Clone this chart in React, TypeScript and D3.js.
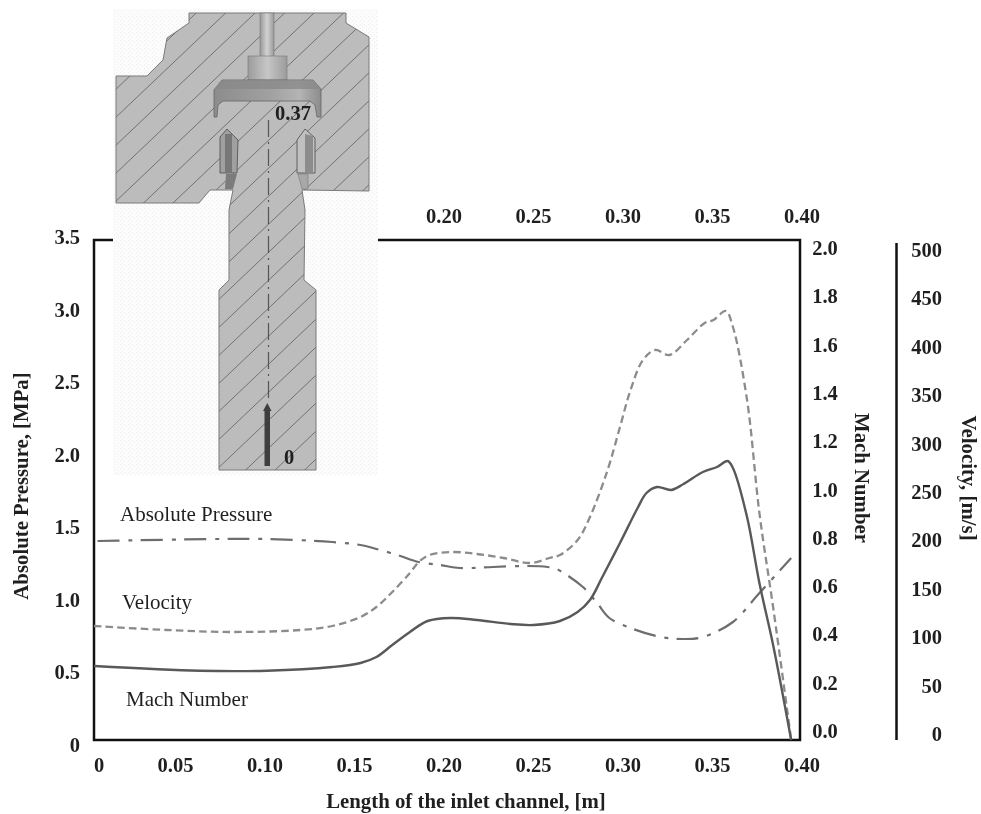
import React from "react";
import * as d3 from "d3";

// ---- chart data ----
const machLength = [0, .060, .098, .135, .151, .160, .169, .179, .189, .202, .217, .236, .249, .264, .274, .281, .288, .298, .308, .313, .319, .327, .334, .345, .353, .359, .362, .370, .377, .385, .395];
const machValues = [.296, .277, .277, .292, .308, .332, .380, .432, .476, .488, .480, .464, .460, .476, .512, .560, .652, .788, .928, .988, 1.012, 1.0, 1.024, 1.072, 1.092, 1.116, 1.088, .892, .628, .372, 0];
const velocityLength = [0, .041, .079, .117, .135, .151, .160, .169, .179, .184, .190, .203, .217, .232, .247, .258, .264, .274, .281, .291, .298, .304, .311, .318, .326, .336, .346, .351, .358, .362, .370, .377, .385, .395];
const velocityValues = [114, 110, 108, 110, 114, 123, 133, 148, 167, 178, 185, 188, 186, 182, 177, 182, 185, 200, 223, 270, 313, 350, 380, 390, 385, 400, 417, 420, 429, 413, 340, 227, 130, 0];
const pressureLength = [.002, .070, .098, .135, .151, .160, .172, .184, .196, .207, .214, .226, .245, .257, .262, .277, .285, .292, .304, .321, .334, .345, .362, .377, .395];
const pressureValues = [1.393, 1.407, 1.407, 1.386, 1.365, 1.337, 1.295, 1.246, 1.225, 1.204, 1.204, 1.211, 1.218, 1.211, 1.197, 1.071, .959, .854, .784, .721, .707, .721, .826, 1.029, 1.274];

const bottomTicks = ["0.05", "0.10", "0.15", "0.20", "0.25", "0.30", "0.35", "0.40"];
const topTicks = ["0.20", "0.25", "0.30", "0.35", "0.40"];
const pressureTicks = [0, 0.5, 1, 1.5, 2, 2.5, 3, 3.5];
const machTicks = [0, .2, .4, .6, .8, 1, 1.2, 1.4, 1.6, 1.8, 2];
const velocityTicks = [0, 50, 100, 150, 200, 250, 300, 350, 400, 450, 500];

// ---- inset drawing of the inlet channel ----
const bodyOutline = "M189,13 L346,13 L346,23 L369,37 L369,191 L302,190 L305,210 L304,280 L316,290 L316,470 L219,470 L219,290 L229,280 L229,210 L233,190 L210,190 L199,203 L116,203 L116,76 L147,76 L163,60 L167,38 L189,23 Z";
const flange = "M222,80 L313,80 L321,89 L321,117 L317,117 L315,105 L310,101 L223,101 L218,105 L217,117 L214,117 L214,90 Z";
const flangeTop = "M222,80 L313,80 L321,89 L214,89 Z";
const finLeft = "M220,137 L227,129 L238,140 L237,173 L220,173 Z";
const finRight = "M297,140 L305,129 L315,138 L315,173 L297,173 Z";
const finLeftStripe = "M225,134 L232,134 L232,173 L225,173 Z";
const finRightStripe = "M305,134 L313,136 L313,173 L305,173 Z";
const finLeftLow = "M226,174 L237,174 L233,189 L225,189 Z";
const finRightLow = "M298,174 L308,174 L308,189 L302,189 Z";

const FONT = "'Liberation Serif', 'Times New Roman', serif";
const INK = "#1f1f1f";

export default function App() {
  const x = d3.scaleLinear().domain([0, 0.4]).range([94, 800]);
  const yPressure = d3.scaleLinear().domain([0, 3.5]).range([740, 240]);
  const yMach = d3.scaleLinear().domain([0, 2]).range([740, 240]);
  const yVelocity = d3.scaleLinear().domain([0, 500]).range([740, 240]);

  // label rows sit slightly off the plot scale in the reference
  const xLabel = d3.scaleLinear().domain([0.05, 0.4]).range([175.5, 802]);
  const yPressLabel = d3.scaleLinear().domain([0, 3.5]).range([745, 237]);
  const yMachLabel = d3.scaleLinear().domain([0, 2]).range([731, 248]);
  const yVelLabel = d3.scaleLinear().domain([0, 500]).range([734, 250]);

  const path = (xs: number[], ys: number[], yScale: d3.ScaleLinear<number, number>) =>
    d3.line<number>()
      .x((d) => x(d))
      .y((_, i) => yScale(ys[i]))
      .curve(d3.curveCatmullRom.alpha(0.5))(xs) as string;

  // hatch lines: y = y0 - slope * (x - 219)
  const hatchOffsets = d3.range(-12, 24).map((k) => 327.3 + 28 * k);
  const slope = 0.95;

  const tick = { fontFamily: FONT, fontWeight: 700, fontSize: 20.5, fill: INK } as const;
  const title = { ...tick, fontSize: 20.8 } as const;

  return (
    <svg width={981} height={814} style={{ position: "absolute", left: 0, top: 0, background: "#fff", filter: "blur(0.4px)" }}>
      <defs>
        <clipPath id="bodyClip"><path d={bodyOutline} /></clipPath>
        <pattern id="speckle" width={4} height={4} patternUnits="userSpaceOnUse">
          <rect width={4} height={4} fill="#fcfcfc" />
          <rect width={1} height={1} fill="#eeeeee" />
          <rect x={2} y={2} width={1} height={1} fill="#eeeeee" />
        </pattern>
        <linearGradient id="flangeFill" x1="0" y1="0" x2="1" y2="0">
          <stop offset="0" stopColor="#8c8c8c" />
          <stop offset="0.55" stopColor="#a2a2a2" />
          <stop offset="0.8" stopColor="#b4b4b4" />
          <stop offset="1" stopColor="#8c8c8c" />
        </linearGradient>
        <linearGradient id="pipeFill" x1="0" y1="0" x2="1" y2="0">
          <stop offset="0" stopColor="#999" />
          <stop offset="0.5" stopColor="#d2d2d2" />
          <stop offset="1" stopColor="#999" />
        </linearGradient>
        <linearGradient id="discFill" x1="0" y1="0" x2="1" y2="0">
          <stop offset="0" stopColor="#9c9c9c" />
          <stop offset="0.5" stopColor="#c6c6c6" />
          <stop offset="1" stopColor="#9c9c9c" />
        </linearGradient>
      </defs>

      {/* plot frame */}
      <g fill="none" stroke="#111" strokeWidth={2.5}>
        <path d={`M${x(0)},${yPressure(3.5)} V${yPressure(0)} H${x(0.4)} V${yPressure(3.5)} Z`} />
      </g>
      <line x1={896.5} x2={896.5} y1={243} y2={740} stroke="#111" strokeWidth={2.5} />

      {/* series */}
      <path d={path(pressureLength, pressureValues, yPressure)} fill="none" stroke="#6e6e6e" strokeWidth={2.2} strokeDasharray="22 9 4 8.3" />
      <path d={path(velocityLength, velocityValues, yVelocity)} fill="none" stroke="#8c8c8c" strokeWidth={2.3} strokeDasharray="7.5 4.2" />
      <path d={path(machLength, machValues, yMach)} fill="none" stroke="#595959" strokeWidth={2.4} />

      {/* inset */}
      <rect x={113} y={9} width={265} height={466} fill="url(#speckle)" />
      <path d={bodyOutline} fill="#bcbcbc" stroke="#7a7a7a" strokeWidth={1} />
      <g clipPath="url(#bodyClip)" stroke="#727272" strokeWidth={1}>
        {hatchOffsets.map((o) => (
          <line key={o} x1={100} y1={o + slope * 119} x2={400} y2={o - slope * 181} />
        ))}
      </g>
      <rect x={260} y={13} width={14} height={44} fill="url(#pipeFill)" stroke="#777" strokeWidth={0.6} />
      <rect x={248} y={56} width={39} height={24} fill="url(#discFill)" stroke="#777" strokeWidth={0.6} />
      <path d={flange} fill="url(#flangeFill)" stroke="#666" strokeWidth={0.8} />
      <path d={flangeTop} fill="#8a8a8a" opacity={0.8} />
      <path d={finLeft} fill="#a0a0a0" stroke="#555" strokeWidth={0.9} />
      <path d={finLeftStripe} fill="#777" />
      <path d={finRight} fill="#c0c0c0" stroke="#555" strokeWidth={0.9} />
      <path d={finRightStripe} fill="#8c8c8c" />
      <path d={finLeftLow} fill="#7c7c7c" />
      <path d={finRightLow} fill="#a8a8a8" stroke="#777" strokeWidth={0.6} />
      <line x1={268.5} x2={268.5} y1={120} y2={402} stroke="#555" strokeWidth={1.2} strokeDasharray="17 5 2 5" />
      <rect x={264.5} y={410} width={5.5} height={56} fill="#3e3e3e" />
      <path d="M263,411 L267.3,403 L271.5,411 Z" fill="#3e3e3e" />
      <text x={293} y={120} textAnchor="middle" {...tick}>0.37</text>
      <text x={289} y={464} textAnchor="middle" {...tick}>0</text>

      {/* tick labels */}
      <text x={99} y={772} textAnchor="middle" {...tick}>0</text>
      {bottomTicks.map((t) => (
        <text key={t} x={xLabel(+t)} y={772} textAnchor="middle" {...tick}>{t}</text>
      ))}
      {topTicks.map((t) => (
        <text key={t} x={xLabel(+t)} y={223} textAnchor="middle" {...tick}>{t}</text>
      ))}
      {pressureTicks.map((t) => (
        <text key={t} x={80} y={yPressLabel(t) + 7} textAnchor="end" {...tick}>{t === 0 ? "0" : t.toFixed(1)}</text>
      ))}
      {machTicks.map((t) => (
        <text key={t} x={825} y={yMachLabel(t) + 7} textAnchor="middle" {...tick}>{t.toFixed(1)}</text>
      ))}
      {velocityTicks.map((t) => (
        <text key={t} x={942} y={yVelLabel(t) + 7} textAnchor="end" {...tick}>{t}</text>
      ))}

      {/* axis titles */}
      <text x={466} y={808} textAnchor="middle" {...title}>Length of the inlet channel, [m]</text>
      <text transform="translate(28,486) rotate(-90)" textAnchor="middle" {...title}>Absolute Pressure, [MPa]</text>
      <text transform="translate(855,478) rotate(90)" textAnchor="middle" {...title}>Mach Number</text>
      <text transform="translate(962,478) rotate(90)" textAnchor="middle" {...title}>Velocity, [m/s]</text>

      {/* series labels */}
      <g fontFamily={FONT} fontSize={21} fill={INK}>
        <text x={120} y={521}>Absolute Pressure</text>
        <text x={122} y={609}>Velocity</text>
        <text x={126} y={706}>Mach Number</text>
      </g>
    </svg>
  );
}
